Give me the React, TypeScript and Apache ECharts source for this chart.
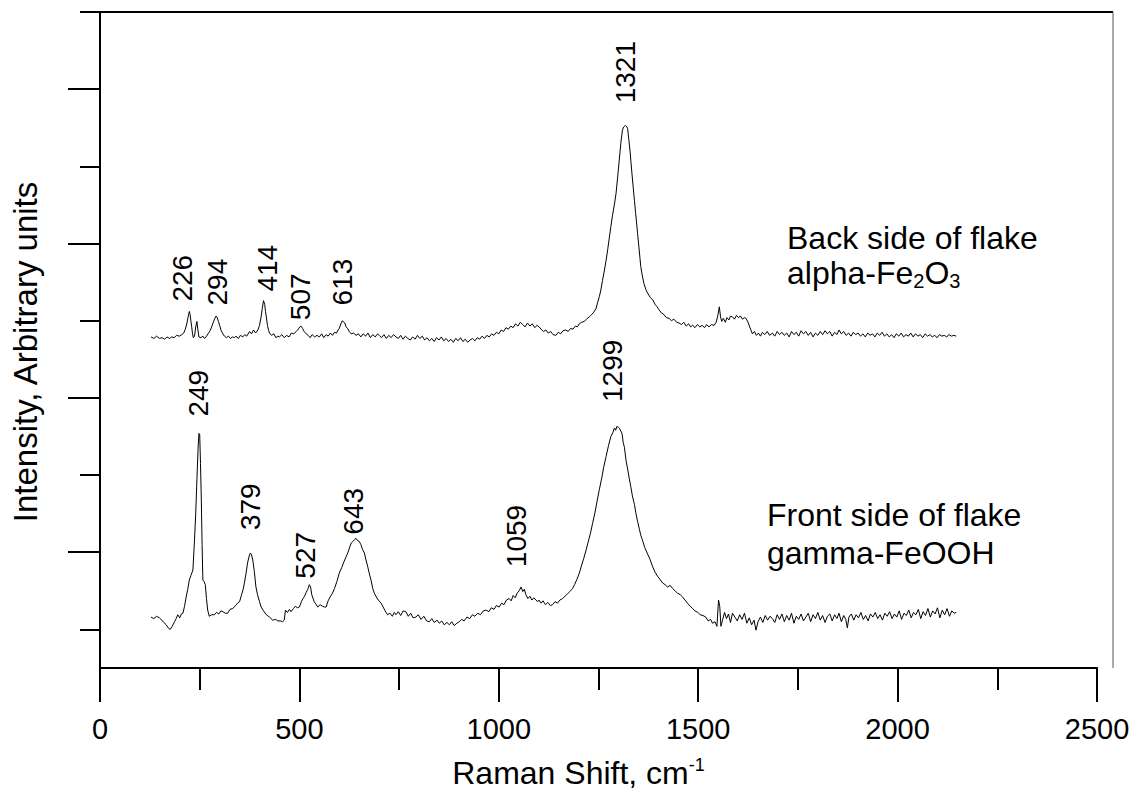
import React, { useEffect, useRef } from "react";
import * as echarts from "echarts";

const FONT = "'Liberation Sans', Arial, Helvetica, sans-serif";

// Raman shift (cm-1) vs intensity (arbitrary units), front side of flake (gamma-FeOOH)
const frontSpectrum: [number, number][] = [
  [128,16],[135,14],[142,17],[149,15],[155,12],[160,9],[166,6],[171,2],[176,0],[181,4],[187,10],[191,14],[195,19],[200,15],[204,20],[208,21],[212,30],[216,42],[220,52],[224,64],[228,70],[233,77],[237,116],[240,150],[243,194],[246,235],[248,254],[250,253],[252,215],[254,170],[256,110],[258,64],[261,62],[264,58],[267,40],[270,25],[274,17],[280,19],[287,19],[292,22],[298,20],[303,24],[308,23],[314,21],[320,21],[326,26],[333,27],[340,31],[345,34],[350,36],[355,45],[359,52],[362,60],[366,72],[370,86],[374,95],[377,99],[380,97],[383,90],[387,75],[391,55],[395,45],[400,36],[404,29],[410,24],[417,19],[425,16],[433,12],[440,13],[446,11],[452,11],[458,10],[462,12],[465,25],[470,22],[475,26],[479,23],[485,27],[490,30],[495,28],[500,29],[505,36],[509,40],[513,43],[517,48],[521,52],[525,58],[528,55],[531,45],[533,42],[537,36],[541,33],[546,29],[552,32],[558,30],[563,29],[567,29],[572,37],[577,42],[583,47],[588,53],[594,62],[600,73],[606,80],[612,88],[617,94],[622,100],[627,108],[630,112],[634,114],[638,116],[642,118],[646,115],[650,114],[654,110],[658,104],[663,99],[667,90],[671,82],[675,73],[680,63],[684,53],[688,47],[693,42],[698,38],[705,34],[710,29],[715,24],[721,19],[727,21],[733,17],[738,22],[742,19],[748,23],[754,18],[760,24],[767,23],[773,17],[779,21],[785,15],[792,16],[798,19],[805,13],[812,17],[819,11],[826,10],[832,14],[838,9],[845,12],[851,8],[857,11],[863,6],[870,9],[876,6],[882,10],[888,5],[895,8],[901,10],[907,13],[913,11],[920,16],[927,14],[934,19],[940,17],[947,21],[954,19],[961,24],[968,25],[975,23],[981,28],[988,26],[994,31],[1001,29],[1007,34],[1013,32],[1019,38],[1026,40],[1031,37],[1036,44],[1041,41],[1046,47],[1051,50],[1056,55],[1060,49],[1064,52],[1068,45],[1073,40],[1078,43],[1083,38],[1088,41],[1093,38],[1098,36],[1101,38],[1106,34],[1111,37],[1117,32],[1123,35],[1129,31],[1135,32],[1141,36],[1147,34],[1153,38],[1160,40],[1166,43],[1172,46],[1178,49],[1185,53],[1190,58],[1196,65],[1202,73],[1207,82],[1213,92],[1219,103],[1224,113],[1230,125],[1235,137],[1241,151],[1246,165],[1252,181],[1258,196],[1263,210],[1269,224],[1275,238],[1281,250],[1286,255],[1290,261],[1293,258],[1296,263],[1300,262],[1303,260],[1306,257],[1309,254],[1312,242],[1315,236],[1319,219],[1323,208],[1327,196],[1331,185],[1335,173],[1340,162],[1344,150],[1348,140],[1352,131],[1356,122],[1360,116],[1366,106],[1372,99],[1379,91],[1386,81],[1392,74],[1398,69],[1404,65],[1411,60],[1417,58],[1423,55],[1430,57],[1436,53],[1442,50],[1448,47],[1455,45],[1461,42],[1467,38],[1473,34],[1480,30],[1486,27],[1492,24],[1499,22],[1505,19],[1512,18],[1519,16],[1525,11],[1531,13],[1536,8],[1542,10],[1547,4],[1551,38],[1554,30],[1557,4],[1561,12],[1566,22],[1571,14],[1576,20],[1581,9],[1586,21],[1592,16],[1598,11],[1604,19],[1610,13],[1616,21],[1622,8],[1628,15],[1634,6],[1640,12],[1645,-1],[1650,10],[1656,16],[1662,9],[1668,18],[1674,12],[1680,17],[1686,14],[1692,9],[1698,19],[1704,13],[1710,20],[1716,10],[1722,18],[1728,12],[1734,21],[1740,8],[1746,17],[1752,13],[1758,20],[1764,11],[1770,16],[1776,21],[1782,10],[1788,19],[1794,14],[1800,22],[1806,12],[1812,18],[1818,9],[1824,17],[1830,20],[1836,11],[1842,19],[1848,14],[1853,21],[1859,10],[1865,18],[1870,13],[1874,2],[1878,16],[1884,20],[1890,12],[1896,19],[1902,15],[1908,22],[1914,13],[1920,18],[1926,11],[1932,20],[1938,16],[1944,22],[1950,14],[1956,19],[1962,12],[1968,21],[1974,17],[1980,23],[1986,14],[1992,20],[1998,16],[2004,24],[2010,13],[2016,21],[2022,18],[2028,25],[2034,15],[2040,22],[2046,19],[2052,26],[2058,14],[2064,23],[2070,18],[2076,27],[2082,16],[2088,24],[2094,20],[2100,28],[2106,15],[2112,25],[2118,19],[2124,27],[2130,17],[2136,24],[2142,21],[2147,22]
];

// Back side of flake (alpha-Fe2O3)
const backSpectrum: [number, number][] = [
  [128,379],[135,377],[142,380],[149,377],[156,378],[162,376],[168,379],[174,377],[180,379],[186,378],[192,381],[199,380],[205,382],[210,384],[214,389],[218,397],[221,405],[224,412],[226,408],[228,399],[230,392],[232,383],[234,378],[237,380],[240,392],[243,399],[245,390],[248,379],[253,378],[258,380],[262,377],[266,379],[271,383],[276,387],[280,392],[284,398],[288,403],[291,406],[294,404],[297,399],[300,394],[304,387],[308,383],[312,380],[317,378],[322,380],[327,377],[332,379],[337,378],[341,380],[347,377],[352,381],[358,379],[363,382],[368,380],[375,386],[380,383],[385,388],[390,384],[396,388],[400,394],[404,405],[407,416],[410,426],[413,421],[415,412],[417,405],[420,394],[423,387],[425,384],[430,381],[436,383],[441,378],[446,380],[450,379],[456,382],[462,378],[468,381],[474,379],[480,384],[486,383],[492,386],[497,389],[501,392],[504,393],[508,390],[512,386],[517,383],[522,381],[527,378],[532,382],[538,379],[544,381],[550,379],[556,383],[561,378],[567,382],[572,380],[578,384],[583,381],[588,385],[593,384],[597,388],[600,390],[604,396],[608,400],[611,398],[614,397],[617,392],[621,390],[625,386],[630,383],[636,384],[642,381],[648,383],[654,379],[660,383],[666,380],[672,384],[678,378],[684,382],[690,379],[696,383],[700,381],[706,378],[712,382],[718,377],[724,381],[730,378],[736,382],[742,379],[748,377],[754,381],[760,376],[766,380],[772,377],[778,375],[784,379],[790,376],[796,381],[802,377],[808,380],[814,375],[820,378],[826,374],[832,377],[838,373],[844,378],[850,375],[856,379],[862,374],[868,377],[874,373],[880,376],[886,372],[892,377],[898,374],[904,378],[910,373],[916,376],[922,372],[928,375],[934,377],[940,374],[946,378],[952,376],[958,380],[964,377],[970,381],[976,379],[982,383],[988,381],[994,385],[1000,383],[1006,388],[1012,386],[1018,391],[1024,389],[1030,393],[1036,391],[1042,396],[1048,393],[1054,398],[1060,395],[1066,392],[1072,397],[1078,393],[1084,396],[1090,391],[1096,394],[1101,392],[1106,389],[1112,386],[1118,388],[1124,384],[1130,386],[1136,382],[1143,381],[1149,385],[1155,383],[1161,387],[1168,388],[1174,386],[1180,390],[1186,389],[1192,393],[1197,392],[1202,396],[1208,398],[1214,399],[1220,402],[1227,405],[1233,408],[1238,411],[1244,416],[1248,424],[1252,431],[1256,440],[1260,452],[1264,463],[1269,478],[1273,492],[1277,507],[1281,522],[1285,536],[1290,551],[1294,565],[1298,586],[1302,608],[1306,630],[1310,647],[1313,651],[1317,653],[1320,652],[1323,649],[1326,635],[1329,620],[1331,608],[1334,590],[1337,573],[1340,556],[1343,540],[1346,524],[1348,513],[1351,497],[1354,481],[1356,470],[1360,458],[1364,448],[1369,440],[1374,435],[1380,430],[1386,427],[1392,421],[1397,418],[1402,414],[1408,410],[1414,408],[1420,404],[1427,403],[1433,400],[1439,402],[1446,398],[1452,397],[1458,395],[1464,398],[1470,393],[1476,396],[1481,392],[1486,394],[1492,391],[1498,395],[1504,392],[1510,394],[1516,391],[1521,395],[1527,392],[1533,395],[1540,394],[1545,398],[1549,406],[1553,418],[1556,405],[1559,399],[1563,403],[1568,398],[1572,404],[1577,401],[1581,406],[1586,405],[1591,402],[1596,407],[1601,404],[1606,406],[1611,402],[1616,404],[1620,403],[1625,398],[1629,392],[1633,387],[1636,383],[1641,386],[1646,381],[1651,384],[1656,380],[1661,385],[1667,382],[1673,386],[1679,381],[1686,384],[1692,380],[1698,386],[1704,382],[1710,385],[1716,381],[1722,384],[1728,379],[1734,386],[1740,382],[1746,385],[1752,380],[1758,387],[1764,383],[1770,386],[1776,381],[1782,385],[1788,379],[1794,384],[1800,381],[1806,386],[1812,382],[1818,387],[1824,383],[1830,386],[1836,380],[1842,385],[1848,382],[1853,388],[1859,383],[1865,386],[1871,381],[1877,384],[1883,380],[1889,385],[1895,382],[1901,384],[1907,380],[1913,383],[1919,379],[1925,384],[1931,381],[1937,383],[1943,379],[1949,384],[1955,381],[1961,385],[1967,380],[1973,383],[1979,379],[1985,382],[1991,378],[1997,383],[2003,380],[2009,384],[2015,379],[2021,382],[2027,380],[2033,384],[2039,379],[2045,383],[2051,380],[2057,382],[2063,378],[2069,383],[2075,380],[2081,382],[2087,379],[2093,381],[2099,378],[2105,382],[2111,380],[2117,381],[2123,379],[2129,382],[2135,380],[2141,381],[2147,380]
];

// Peak annotations: [shift position, intensity position, label]
const frontPeakLabels: [number, number, string][] = [
  [247, 306, "249"], [377, 159, "379"], [515, 96, "527"], [635, 153, "643"], [1044, 121, "1059"], [1284, 335, "1299"],
];
const backPeakLabels: [number, number, string][] = [
  [207, 455, "226"], [294, 450, "294"], [420, 468, "414"], [502, 431, "507"], [608, 450, "613"], [1317, 722, "1321"],
];

const xMin = 0, xMax = 2500, xMajor = 500;
const yMin = -50, yMax = 800;
const yLongTicks = [100, 300, 500, 700];
const yShortTicks = [0, 200, 400, 600, 800];

const xTitle = "Raman Shift, cm";
const xTitleSup = "-1";
const yTitle = "Intensity, Arbitrary units";

export default function App() {
  const ref = useRef<HTMLDivElement>(null);
  useEffect(() => {
    document.body.style.margin = "0";
    const chart = echarts.init(ref.current!, null, { renderer: "svg" });
    const black = "#000";
    const labelSeries = (data: [number, number, string][]) => ({
      type: "scatter",
      data,
      symbolSize: 1,
      itemStyle: { color: "rgba(255,255,255,0)" },
      silent: true,
      label: {
        show: true,
        position: "inside",
        rotate: 90,
        formatter: (p: any) => p.data[2],
        fontFamily: FONT,
        fontSize: 28,
        color: black,
        opacity: 1,
        textBorderWidth: 0,
      },
      z: 5,
    });
    chart.setOption({
      animation: false,
      backgroundColor: "#fff",
      grid: { left: 100, right: 40, top: 12, bottom: 131, containLabel: false },
      xAxis: {
        type: "value",
        min: xMin,
        max: xMax,
        interval: xMajor,
        name: `{n|${xTitle}}{s|${xTitleSup}}`,
        nameLocation: "middle",
        nameGap: 88,
        nameTextStyle: {
          padding: [0, 40, 0, 0],
          rich: {
            n: { fontFamily: FONT, fontSize: 32, color: black, lineHeight: 34 },
            s: { fontFamily: FONT, fontSize: 18, color: black, lineHeight: 18, verticalAlign: "top" },
          },
        },
        axisLine: { show: true, onZero: false, lineStyle: { color: black, width: 2 } },
        axisTick: { show: true, length: 34, lineStyle: { color: black, width: 2 } },
        minorTick: { show: true, splitNumber: 2, length: 22, lineStyle: { color: black, width: 2 } },
        splitLine: { show: false },
        minorSplitLine: { show: false },
        axisLabel: {
          fontFamily: FONT, fontSize: 29, color: black, margin: 46,
          formatter: (v: number) => String(v),
        },
      },
      yAxis: [
        {
          type: "value",
          min: yMin,
          max: yMax,
          position: "left",
          name: yTitle,
          nameLocation: "middle",
          nameRotate: 90,
          nameGap: 58,
          nameTextStyle: { fontFamily: FONT, fontSize: 33, color: black, padding: [0, 24, 0, 0] },
          axisLine: { show: true, lineStyle: { color: black, width: 2 } },
          axisTick: { show: true, length: 32, customValues: yLongTicks, lineStyle: { color: black, width: 2 } },
          axisLabel: { show: false },
          splitLine: { show: false },
        },
        {
          type: "value",
          min: yMin,
          max: yMax,
          position: "left",
          axisLine: { show: false },
          axisTick: { show: true, length: 20, customValues: yShortTicks, lineStyle: { color: black, width: 2 } },
          axisLabel: { show: false },
          splitLine: { show: false },
        },
      ],
      series: [
        {
          type: "line",
          data: backSpectrum,
          showSymbol: false,
          symbol: "none",
          lineStyle: { color: black, width: 1 },
          silent: true,
        },
        {
          type: "line",
          data: frontSpectrum,
          showSymbol: false,
          symbol: "none",
          lineStyle: { color: black, width: 1 },
          silent: true,
        },
        labelSeries(backPeakLabels),
        labelSeries(frontPeakLabels),
      ],
      graphic: [
        { type: "line", shape: { x1: 80, y1: 12, x2: 1113, y2: 12 }, style: { stroke: black, lineWidth: 2 } },
        { type: "line", shape: { x1: 1113, y1: 12, x2: 1113, y2: 668 }, style: { stroke: "#555", lineWidth: 1 } },
        {
          type: "text", left: 787, top: 222,
          style: { text: "Back side of flake", fontFamily: FONT, fontSize: 32, fill: black },
        },
        {
          type: "text", left: 787, top: 257,
          style: {
            text: "{n|alpha-Fe}{s|2}{n|O}{s|3}",
            rich: {
              n: { fontFamily: FONT, fontSize: 32, fill: black, lineHeight: 36 },
              s: { fontFamily: FONT, fontSize: 20, fill: black, lineHeight: 20, verticalAlign: "bottom" },
            },
          },
        },
        {
          type: "text", left: 767, top: 499,
          style: { text: "Front side of flake", fontFamily: FONT, fontSize: 32, fill: black },
        },
        {
          type: "text", left: 767, top: 537,
          style: { text: "gamma-FeOOH", fontFamily: FONT, fontSize: 32, fill: black },
        },
      ],
    });
    return () => chart.dispose();
  }, []);
  return <div ref={ref} style={{ width: 1137, height: 799 }} />;
}
